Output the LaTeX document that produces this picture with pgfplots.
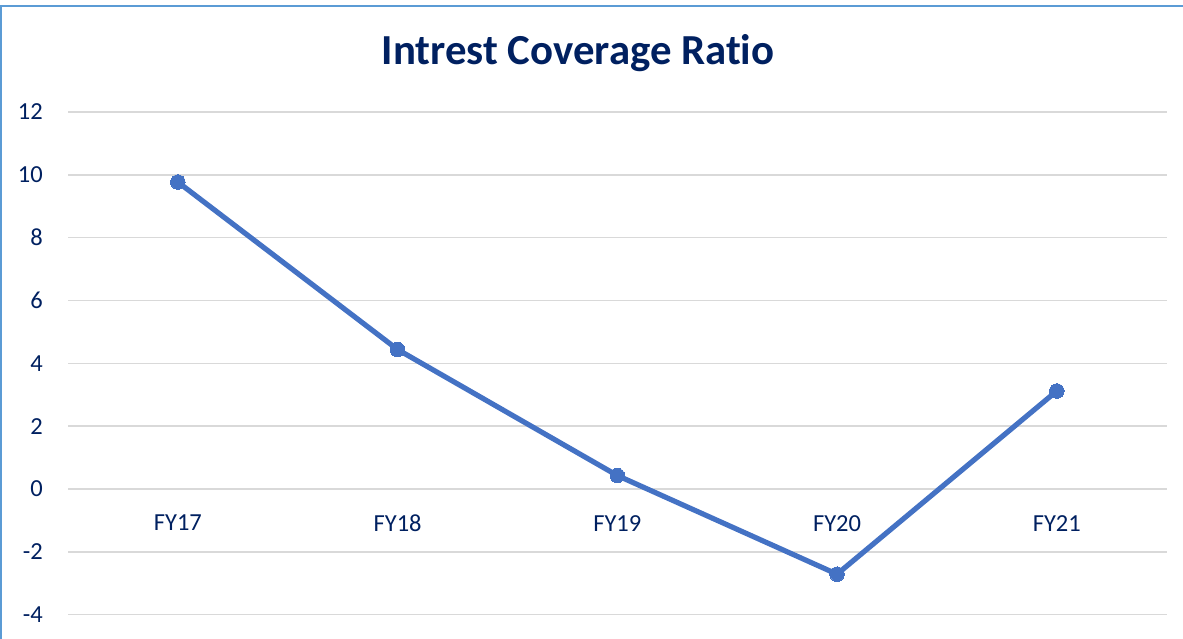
\documentclass[border=0pt]{standalone}
\usepackage{pgfplots}
\pgfplotsset{compat=1.18}
\usepackage{fontspec}
\setmainfont{Carlito}[Ligatures=NoCommon]
\definecolor{navy}{HTML}{002060}
\definecolor{lineblue}{HTML}{4472C4}
\definecolor{gridgray}{HTML}{D9D9D9}
\definecolor{frameblue}{HTML}{5B9BD5}
\begin{document}
\begin{tikzpicture}[x=1pt,y=1pt]
\useasboundingbox (0,0) rectangle (1183,639);
\draw[frameblue, line width=2pt] (1,0) -- (1,632.5) -- (1183,632.5);
\node[anchor=base, inner sep=0pt, text=navy, font=\fontsize{42.8}{48}\selectfont\bfseries] at (578,574) {Intrest Coverage Ratio};
\begin{axis}[
  at={(68pt,24.3pt)}, anchor=south west,
  scale only axis, width=1098.7pt, height=502.7pt,
  xmin=-0.5, xmax=4.5, ymin=-4, ymax=12,
  axis x line=middle, axis y line=left,
  axis line style={draw=none,-},
  xtick={0,1,2,3,4},
  xticklabels={FY17,FY18,FY19,FY20,FY21},
  ytick={-4,-2,0,2,4,6,8,10,12},
  yticklabels={-4,-2,0,2,4,6,8,10,12},
  major tick length=0pt,
  ymajorgrids,
  grid style={gridgray, line width=1.5pt},
  tick label style={text=navy, font=\fontsize{24.5}{29}\selectfont, inner sep=0pt},
  yticklabel style={anchor=east, xshift=-25pt},
  xticklabel style={anchor=north, yshift=-26pt},
  clip=false,
]
\addplot[lineblue, line width=5.2pt, mark=*, mark size=7.3pt, mark options={fill=lineblue, draw=lineblue, line width=0pt}] coordinates {
(0,9.77) (1,4.44) (2,0.43) (3,-2.71) (4,3.12)
};
\end{axis}
\end{tikzpicture}
\end{document}
